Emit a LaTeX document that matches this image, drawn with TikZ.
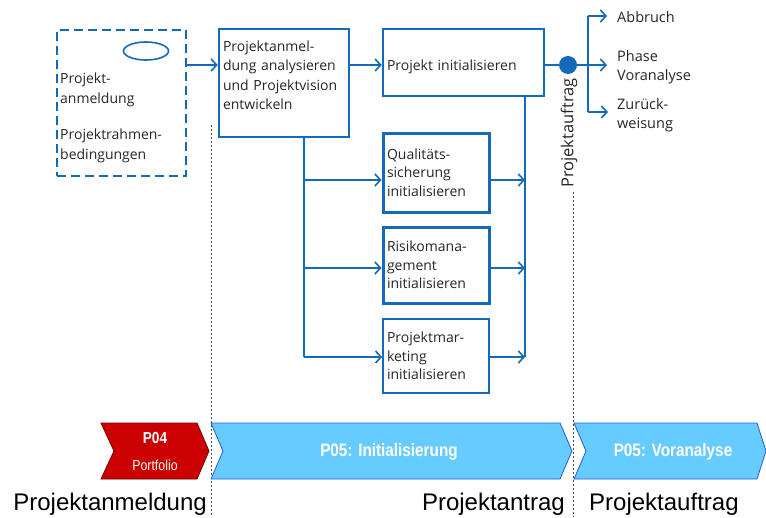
\documentclass[tikz,border=0pt]{standalone}
\usepackage{fontspec}
\setmainfont{Open Sans}
\newfontfamily\labelfont{Liberation Sans}
\newfontfamily\phasefont[FakeStretch=0.85]{Liberation Sans}
\usetikzlibrary{arrows.meta,shapes.geometric}

\definecolor{prozessblau}{RGB}{18,106,184}
\definecolor{phasenblau}{RGB}{102,204,255}
\definecolor{phasenrand}{RGB}{40,90,220}
\definecolor{portfoliorot}{RGB}{204,0,0}
\definecolor{portfoliorand}{RGB}{110,0,0}

\begin{document}
\begin{tikzpicture}[x=1pt,y=-1pt,
    box/.style={draw=prozessblau,line width=2.5pt,fill=white,align=left,inner xsep=4pt,
        text=black!85,font=\fontsize{14}{19.5}\selectfont},
    pfeil/.style={draw=prozessblau,line width=1.6pt,-{Straight Barb[length=5.5pt,width=12pt]}},
    linie/.style={draw=prozessblau,line width=1.6pt},
    randtext/.style={text=black!85,align=left,inner sep=0pt,font=\fontsize{14}{19.5}\selectfont},
    grenze/.style={draw=black!70,line width=1pt,dash pattern=on 2pt off 2pt},
    phase/.style={text=white,font=\phasefont\bfseries\fontsize{18}{20}\selectfont},
    meilenstein/.style={text=black,font=\labelfont\fontsize{24}{26}\selectfont}]
    \useasboundingbox (0,0) rectangle (766,517);

    % Grenzen
    \coordinate (g1oben) at (211,125);
    \coordinate (g1unten) at (211,517);
    \coordinate (g2oben) at (573,192);
    \coordinate (g2unten) at (573,517);
    \draw[grenze] (g1oben) -- (g1unten);
    \draw[grenze] (g2oben) -- (g2unten);

    % Eingang
    \node[draw=prozessblau,line width=2.5pt,dash pattern=on 9pt off 5pt,minimum width=129pt,
        minimum height=146pt] (anmeldung) at (121.5,103) {};
    \node[draw=prozessblau,line width=1.6pt,ellipse,minimum width=45pt,minimum height=18pt,
        inner sep=0pt] (oval) at (146,51) {};
    \node[randtext,anchor=west] (anmeldetext) at (60,118)
        {Projekt-\\anmeldung\\[17pt]Projektrahmen-\\bedingungen};

    % Prozesse
    \node[box,minimum width=130pt,minimum height=108pt,text width=122pt] (analyse) at (284,83)
        {Projektanmel-\\dung analysieren\\und Projektvision\\entwickeln\\[-4pt]\mbox{}};
    \node[box,minimum width=161pt,minimum height=67pt,text width=153pt] (init) at (463.5,62.5)
        {\mbox{}\\Projekt initialisieren};
    \node[box,line width=3pt,minimum width=106pt,minimum height=79pt,text width=98pt,
        font=\fontsize{14}{18.5}\selectfont] (qs) at (436,172.5)
        {Qualitäts-\\sicherung\\initialisieren};
    \node[box,line width=3pt,minimum width=106pt,minimum height=76pt,text width=98pt,
        font=\fontsize{14}{18.5}\selectfont] (risiko) at (436,265)
        {Risikomana-\\gement\\initialisieren};
    \node[box,line width=1.8pt,minimum width=106pt,minimum height=74pt,text width=98pt,
        font=\fontsize{14}{18.5}\selectfont] (marketing) at (436,356)
        {Projektmar-\\keting\\initialisieren};

    % Verzweigung
    \coordinate (s0) at (304,137);
    \coordinate (s1) at (304,180);
    \coordinate (s2) at (304,268);
    \coordinate (s3) at (304,357);
    \coordinate (r0) at (525,96);
    \coordinate (r1) at (525,180);
    \coordinate (r2) at (525,268);
    \coordinate (r3) at (525,357);

    \draw[pfeil] (anmeldung.east |- 0,65) -- (analyse.west |- 0,65);
    \draw[pfeil] (analyse.east |- 0,65) -- (init.west |- 0,65);
    \draw[linie] (s0) -- (s3);
    \draw[pfeil] (s1) -- (s1 -| qs.west);
    \draw[pfeil] (s2) -- (s2 -| risiko.west);
    \draw[pfeil] (s3) -- (s3 -| marketing.west);
    \draw[linie] (r0) -- (r3);
    \draw[pfeil] (qs.east |- r1) -- (r1);
    \draw[pfeil] (risiko.east |- r2) -- (r2);
    \draw[pfeil] (marketing.east |- r3) -- (r3);

    % Entscheidung
    \node[circle,fill=prozessblau,minimum size=18pt,inner sep=0pt] (punkt) at (568,65) {};
    \node[randtext,rotate=90,font=\fontsize{16.5}{20}\selectfont] (auftragtext) at (569,133) {Projektauftrag};
    \coordinate (v0) at (588,65);
    \coordinate (v1) at (588,16);
    \coordinate (v3) at (588,112);
    \node[randtext,anchor=west,font=\fontsize{14.5}{19.5}\selectfont] (abbruch) at (617,17) {Abbruch};
    \node[randtext,anchor=west,font=\fontsize{14.5}{19.5}\selectfont] (voranalyse) at (617,67) {Phase\\Voranalyse};
    \node[randtext,anchor=west,font=\fontsize{14.5}{19.5}\selectfont] (rueck) at (617,115) {Zurück-\\weisung};
    \draw[linie] (init.east |- punkt) -- (punkt) -- (v0);
    \draw[linie] (v1) -- (v3);
    \draw[pfeil] (v1) -- ++(19,0);
    \draw[pfeil] (v0) -- ++(19,0);
    \draw[pfeil] (v3) -- ++(20,0);

    % Phasen
    \draw[fill=portfoliorot,draw=portfoliorand,line width=0.8pt]
        (101,423) -- (197,423) -- (209,451) -- (197,479) -- (101,479) -- (114,451) -- cycle;
    \draw[fill=phasenblau,draw=phasenrand,line width=0.8pt]
        (211,423) -- (560,423) -- (572,451) -- (560,479) -- (211,479) -- (223,451) -- cycle;
    \draw[fill=phasenblau,draw=phasenrand,line width=0.8pt]
        (574,423) -- (757,423) -- (766,451) -- (757,479) -- (574,479) -- (586,451) -- cycle;
    \node[phase,font=\phasefont\bfseries\fontsize{16}{18}\selectfont] (p04) at (155,438) {P04};
    \node[phase,font=\phasefont\fontsize{14.5}{16}\selectfont] (portfolio) at (155,465) {Portfolio};
    \node[phase] (p05init) at (389,452) {P05: Initialisierung};
    \node[phase] (p05vor) at (673,452) {P05: Voranalyse};

    % Meilensteine
    \node[meilenstein,anchor=base east,inner sep=0pt] (m1) at (207,510) {Projektanmeldung};
    \node[meilenstein,anchor=base east,inner sep=0pt] (m2) at (565,510) {Projektantrag};
    \node[meilenstein,anchor=base west,inner sep=0pt] (m3) at (589,510) {Projektauftrag};
\end{tikzpicture}
\end{document}
